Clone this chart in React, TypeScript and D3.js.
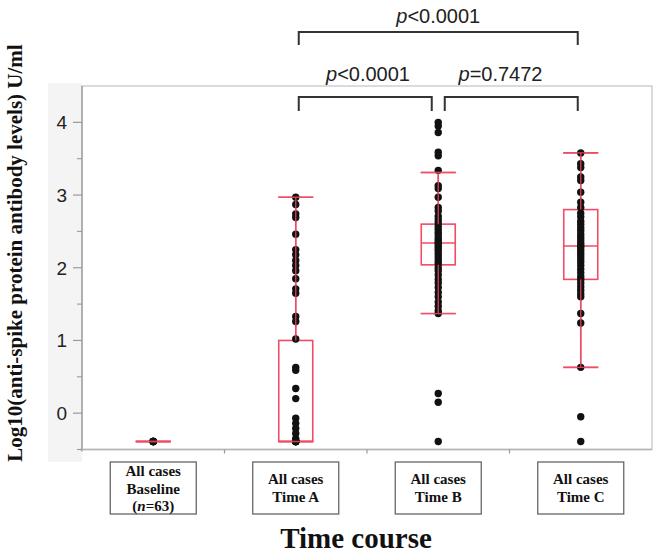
import React from "react";
import * as d3 from "d3";

const groups = ["Baseline", "Time A", "Time B", "Time C"];
const labelLines = [
  ["All cases", "Baseline", "(n=63)"],
  ["All cases", "Time A"],
  ["All cases", "Time B"],
  ["All cases", "Time C"],
];
const yTicks = [0, 1, 2, 3, 4];
const yMinorTicks = [-0.5, 0.5, 1.5, 2.5, 3.5];

// box statistics: [whiskerLow, q1, median, q3, whiskerHigh]
const boxBaseline = [-0.39, -0.39, -0.39, -0.39, -0.39];
const boxTimeA = [-0.39, -0.39, -0.39, 1.0, 2.97];
const boxTimeB = [1.37, 2.04, 2.34, 2.6, 3.31];
const boxTimeC = [0.63, 1.84, 2.3, 2.8, 3.58];

const pointsBaseline = [-0.39, -0.39, -0.39, -0.39, -0.39, -0.39];
const pointsTimeA = [
  2.97, 2.87, 2.74, 2.69, 2.46, 2.25, 2.18, 2.1, 2.03, 1.96, 1.85, 1.71, 1.65,
  1.33, 1.26, 1.02, 0.63, 0.59, 0.34, 0.2, -0.07, -0.14, -0.21, -0.28, -0.35,
  -0.39, -0.39, -0.39, -0.39, -0.39, -0.39, -0.39,
];
const pointsTimeB = [
  4.0, 3.95, 3.86, 3.59, 3.54, 3.34, 3.13, 3.09, 2.97, 2.83, 2.78, 2.71, 2.66,
  2.62, 2.57, 2.53, 2.49, 2.45, 2.41, 2.38, 2.35, 2.33, 2.3, 2.27, 2.24, 2.2,
  2.16, 2.12, 2.08, 2.05, 2.0, 1.96, 1.9, 1.84, 1.79, 1.73, 1.66, 1.6, 1.53,
  1.47, 1.41, 1.37, 0.27, 0.15, -0.39,
];
const pointsTimeC = [
  3.58, 3.43, 3.38, 3.25, 3.2, 3.04, 2.9, 2.83, 2.75, 2.7, 2.64, 2.6, 2.55,
  2.51, 2.46, 2.42, 2.38, 2.34, 2.31, 2.28, 2.24, 2.2, 2.16, 2.12, 2.08, 2.03,
  1.98, 1.93, 1.88, 1.84, 1.79, 1.74, 1.69, 1.64, 1.6, 1.37, 1.24, 0.63,
  -0.05, -0.39,
];

const boxes = [boxBaseline, boxTimeA, boxTimeB, boxTimeC];
const points = [pointsBaseline, pointsTimeA, pointsTimeB, pointsTimeC];

const RED = "#ef4d65";
const SERIF = "'Liberation Serif', 'Times New Roman', serif";
const SANS = "'Liberation Sans', Arial, sans-serif";

export default function App() {
  const W = 657;
  const H = 557;
  const left = 82;
  const right = 652;
  const top = 86;
  const bottom = 449.5;

  const x = d3.scaleBand<string>().domain(groups).range([left, right]).padding(0);
  const y = d3.scaleLinear().domain([-0.5, 4.5]).range([bottom, top]);
  const cx = (g: string) => (x(g) as number) + x.bandwidth() / 2;

  const boxW = 34;
  const capW = 35;
  const labelW = 86;

  const pText = (label: string, sym: string, val: string, px: number, py: number) => (
    <text
      key={label}
      x={px}
      y={py}
      textAnchor="middle"
      fontFamily={SANS}
      fontSize={20}
      fill="#222"
    >
      <tspan fontStyle="italic">p</tspan>
      <tspan>{sym + val}</tspan>
    </text>
  );

  const ca = cx("Time A");
  const cb = cx("Time B");
  const cc = cx("Time C");

  return (
    <svg
      width={W}
      height={H}
      style={{ position: "absolute", left: 0, top: 0, background: "#fff" }}
    >
      {/* light gray band behind y tick labels */}
      <rect x={48} y={83} width={left - 48} height={462 - 83} fill="#f4f4f4" />
      {/* plot frame */}
      <rect x={left} y={top} width={right - left} height={bottom - top} fill="#fff" stroke="#cfcfcf" strokeWidth={1.5} />
      <line x1={left} x2={left} y1={top} y2={bottom + 2} stroke="#9a9a9a" strokeWidth={1.3} />
      <line x1={left - 2} x2={right} y1={bottom} y2={bottom} stroke="#b5b5b5" strokeWidth={1.5} />

      {/* y ticks */}
      {yTicks.map((t) => (
        <g key={"t" + t}>
          <line x1={left - 9} x2={left} y1={y(t)} y2={y(t)} stroke="#9a9a9a" strokeWidth={1.2} />
          <text x={left - 15} y={y(t) + 7} textAnchor="end" fontFamily={SANS} fontSize={19} fill="#222">
            {t}
          </text>
        </g>
      ))}
      {yMinorTicks.map((t) => (
        <line key={"m" + t} x1={left - 5} x2={left} y1={y(t)} y2={y(t)} stroke="#9a9a9a" strokeWidth={1.1} />
      ))}
      {/* x ticks at band boundaries */}
      {groups.slice(1).map((g) => (
        <line key={"xt" + g} x1={x(g) as number} x2={x(g) as number} y1={bottom} y2={bottom + 4} stroke="#9a9a9a" strokeWidth={1.2} />
      ))}

      {/* boxes */}
      {groups.map((g, i) => {
        const [lo, q1, med, q3, hi] = boxes[i];
        const c = cx(g);
        return (
          <g key={"b" + g} stroke={RED} strokeWidth={1.6} fill="none">
            <line x1={c} x2={c} y1={y(hi)} y2={y(q3)} />
            <line x1={c} x2={c} y1={y(q1)} y2={y(lo)} />
            <line x1={c - capW / 2} x2={c + capW / 2} y1={y(hi)} y2={y(hi)} />
            <line x1={c - capW / 2} x2={c + capW / 2} y1={y(lo)} y2={y(lo)} />
            <rect x={c - boxW / 2} y={y(q3)} width={boxW} height={Math.max(0, y(q1) - y(q3))} />
            <line x1={c - boxW / 2} x2={c + boxW / 2} y1={y(med)} y2={y(med)} />
          </g>
        );
      })}

      {/* points */}
      {groups.map((g, i) =>
        points[i].map((v, j) => (
          <circle key={g + j} cx={cx(g)} cy={y(v)} r={3.7} fill="#111" />
        ))
      )}

      {/* whisker lines drawn over dots */}
      {groups.map((g, i) => {
        const [lo, q1, , q3, hi] = boxes[i];
        const c = cx(g);
        return (
          <g key={"w" + g} stroke={RED} strokeWidth={1.3} opacity={0.85}>
            <line x1={c} x2={c} y1={y(hi)} y2={y(q3)} />
            <line x1={c} x2={c} y1={y(q1)} y2={y(lo)} />
            <line x1={c - capW / 2} x2={c + capW / 2} y1={y(hi)} y2={y(hi)} />
            <line x1={c - capW / 2} x2={c + capW / 2} y1={y(lo)} y2={y(lo)} />
          </g>
        );
      })}

      {/* significance brackets */}
      <g stroke="#333" strokeWidth={2} fill="none">
        <path d={`M${ca + 3},45V32H${cc - 3}V45`} />
        <path d={`M${ca + 3},111V97H${cb - 6.5}V111`} />
        <path d={`M${cb + 6.5},111V97H${cc - 3}V111`} />
      </g>
      {pText("top", "<", "0.0001", (ca + cc) / 2, 23)}
      {pText("ab", "<", "0.0001", (ca + cb) / 2 + 1, 81)}
      {pText("bc", "=", "0.7472", (cb + cc) / 2 - 9, 81)}

      {/* x category label boxes */}
      {groups.map((g, i) => {
        const c = cx(g);
        const lines = labelLines[i];
        const startY = lines.length === 3 ? 476 : 484;
        return (
          <g key={"l" + g}>
            <rect x={c - labelW / 2} y={462} width={labelW} height={52} fill="#fff" stroke="#666" strokeWidth={1.3} />
            {lines.map((ln, k) => (
              <text
                key={k}
                x={c}
                y={startY + k * 17.5}
                textAnchor="middle"
                fontFamily={SERIF}
                fontWeight="bold"
                fontSize={15}
                fill="#111"
              >
                {ln.startsWith("(n=") ? (
                  <>
                    <tspan>(</tspan>
                    <tspan fontStyle="italic">n</tspan>
                    <tspan>{ln.slice(2)}</tspan>
                  </>
                ) : (
                  ln
                )}
              </text>
            ))}
          </g>
        );
      })}

      {/* axis titles */}
      <text x={356} y={548} textAnchor="middle" fontFamily={SERIF} fontWeight="bold" fontSize={29} fill="#111">
        Time course
      </text>
      <text
        transform={`translate(22,${253}) rotate(-90)`}
        textAnchor="middle"
        fontFamily={SERIF}
        fontWeight="bold"
        fontSize={21}
        fill="#111"
      >
        Log10(anti-spike protein antibody levels) U/ml
      </text>
    </svg>
  );
}
